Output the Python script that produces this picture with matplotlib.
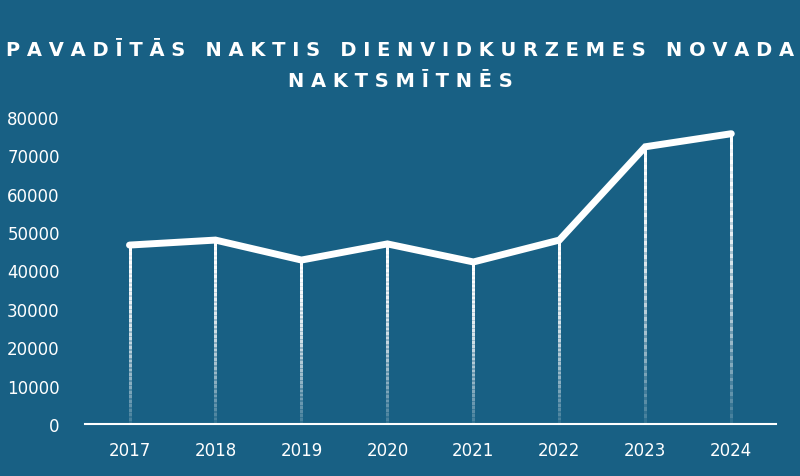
import matplotlib.pyplot as plt
from matplotlib.collections import LineCollection
import numpy as np

years = ['2017', '2018', '2019', '2020', '2021', '2022', '2023', '2024']
nights = [46600, 47900, 42700, 46900, 42200, 47900, 72200, 75600]

bg = '#186084'
fig = plt.figure(figsize=(8, 4.77), dpi=100, facecolor=bg)
ax = fig.add_axes([0.106, 0.109, 0.864, 0.644], facecolor=bg)

x = np.arange(len(years))
# vertical drop lines fading toward the bottom
for xi, v in zip(x, nights):
    n = 40
    ys = np.linspace(0, v, n + 1)
    segs = [[(xi, ys[k]), (xi, ys[k + 1] + v * 0.01)] for k in range(n)]
    cols = [(1, 1, 1, 0.1 + 0.9 * k / n) for k in range(n)]
    ax.add_collection(LineCollection(segs, colors=cols, linewidths=1, antialiaseds=False))
ax.plot(x, nights, color='white', lw=5, solid_capstyle='round', solid_joinstyle='miter')

ax.set_xlim(-0.52, 7.52)
ax.set_ylim(0, 80000)
ax.set_yticks(range(0, 80001, 10000))
ax.set_xticks(x)
ax.set_xticklabels(years)
for s in ['top', 'right', 'left']:
    ax.spines[s].set_visible(False)
ax.spines['bottom'].set_color('white')
ax.spines['bottom'].set_linewidth(1.5)
ax.tick_params(axis='y', length=0, colors='white', labelsize=12, pad=18)
ax.tick_params(axis='x', length=0, colors='white', labelsize=12, pad=12)

fig.text(0.5, 0.895, 'P A V A D Ī T Ā S   N A K T I S   D I E N V I D K U R Z E M E S   N O V A D A',
         ha='center', va='center', color='white', fontsize=14, fontweight='bold')
fig.text(0.5, 0.83, 'N A K T S M Ī T N Ē S',
         ha='center', va='center', color='white', fontsize=14, fontweight='bold')

fig.savefig('out.png', dpi=100, facecolor=bg)
